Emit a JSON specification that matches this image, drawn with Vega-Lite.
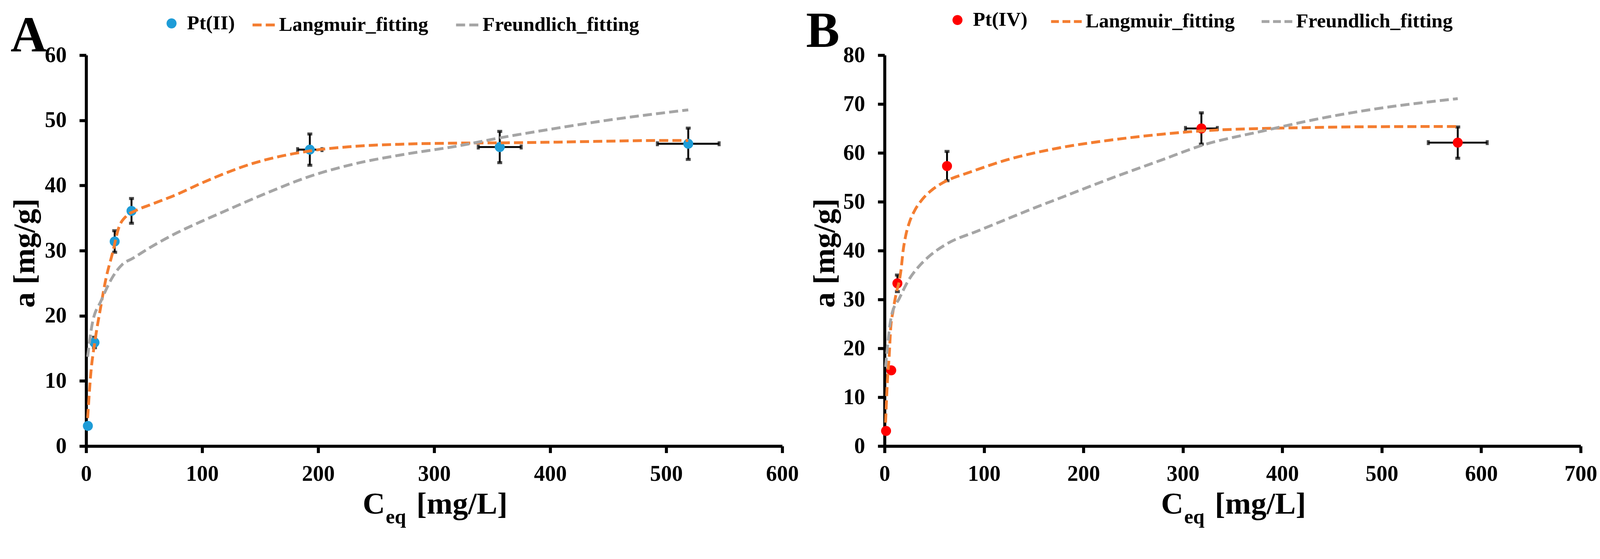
{
  "$schema": "https://vega.github.io/schema/vega-lite/v6.json",
  "background": "white",
  "padding": {"left": 23.5, "top": 11.1, "right": 5, "bottom": 5},
  "spacing": 262,
  "bounds": "flush",
  "config": {
    "view": {"stroke": null},
    "font": "Liberation Serif",
    "axis": {
      "grid": false,
      "domainColor": "black",
      "domainWidth": 7.7,
      "tickColor": "black",
      "tickWidth": 7.7,
      "tickSize": 17.4,
      "labelFont": "Liberation Serif",
      "labelFontWeight": "bold",
      "labelFontSize": 56,
      "labelColor": "black",
      "titleFont": "Liberation Serif",
      "titleFontWeight": "bold",
      "titleFontSize": 79.3,
      "titleColor": "black",
      "labelFlush": false,
      "labelOverlap": false
    },
    "axisX": {"labelPadding": 27, "titleBaseline": "alphabetic", "titleY": 172, "titleAlign": "center", "titleAngle": 0},
    "axisY": {"labelPadding": 32.9, "titleBaseline": "alphabetic", "titleAngle": -90, "titleAlign": "center", "titleY": 505.8},
    "legend": {
      "orient": "none", "direction": "horizontal", "title": null, "padding": 0,
      "labelFont": "Liberation Serif", "labelFontWeight": "bold", "labelFontSize": 51.3, "labelColor": "black", "labelLimit": 1000
    },
    "title": {"font": "Liberation Serif", "fontWeight": "bold", "fontSize": 128.6, "color": "black", "anchor": "start", "frame": "group", "baseline": "alphabetic", "offset": 0}
  },
  "datasets": {
    "ptsA": [
      {"series": "Pt(II)", "x": 1.5, "y": 3.1},
      {"series": "Pt(II)", "x": 7.2, "y": 15.9, "yerr": 0.8},
      {"series": "Pt(II)", "x": 24.6, "y": 31.4, "yerr": 1.65},
      {"series": "Pt(II)", "x": 39.1, "y": 36.1, "yerr": 1.9},
      {"series": "Pt(II)", "x": 192.8, "y": 45.5, "yerr": 2.4, "xerr": 10.5},
      {"series": "Pt(II)", "x": 356.5, "y": 45.9, "yerr": 2.4, "xerr": 18.5},
      {"series": "Pt(II)", "x": 519, "y": 46.4, "yerr": 2.4, "xerr": 26.6}
    ],
    "linesA": [
      {"series": "Langmuir_fitting", "x": 1.3, "y": 4.3},
      {"series": "Langmuir_fitting", "x": 4.0, "y": 11.1},
      {"series": "Langmuir_fitting", "x": 7.5, "y": 16.0},
      {"series": "Langmuir_fitting", "x": 12.4, "y": 21.2},
      {"series": "Langmuir_fitting", "x": 17.2, "y": 25.8},
      {"series": "Langmuir_fitting", "x": 22.7, "y": 29.6},
      {"series": "Langmuir_fitting", "x": 28.1, "y": 33.5},
      {"series": "Langmuir_fitting", "x": 34.6, "y": 35.3},
      {"series": "Langmuir_fitting", "x": 42.2, "y": 36.1},
      {"series": "Langmuir_fitting", "x": 56.3, "y": 37.1},
      {"series": "Langmuir_fitting", "x": 77.9, "y": 38.6},
      {"series": "Langmuir_fitting", "x": 100, "y": 40.4},
      {"series": "Langmuir_fitting", "x": 144, "y": 43.4},
      {"series": "Langmuir_fitting", "x": 192.8, "y": 45.3},
      {"series": "Langmuir_fitting", "x": 231, "y": 46.0},
      {"series": "Langmuir_fitting", "x": 275, "y": 46.35},
      {"series": "Langmuir_fitting", "x": 318.5, "y": 46.5},
      {"series": "Langmuir_fitting", "x": 362, "y": 46.55},
      {"series": "Langmuir_fitting", "x": 406, "y": 46.65},
      {"series": "Langmuir_fitting", "x": 450, "y": 46.8},
      {"series": "Langmuir_fitting", "x": 493, "y": 46.9},
      {"series": "Langmuir_fitting", "x": 519, "y": 46.9},
      {"series": "Freundlich_fitting", "x": 1.3, "y": 13.7},
      {"series": "Freundlich_fitting", "x": 5.3, "y": 18.8},
      {"series": "Freundlich_fitting", "x": 12.9, "y": 22.3},
      {"series": "Freundlich_fitting", "x": 23.7, "y": 26.2},
      {"series": "Freundlich_fitting", "x": 31.3, "y": 27.9},
      {"series": "Freundlich_fitting", "x": 40, "y": 28.8},
      {"series": "Freundlich_fitting", "x": 56.3, "y": 30.6},
      {"series": "Freundlich_fitting", "x": 77.9, "y": 32.7},
      {"series": "Freundlich_fitting", "x": 99.6, "y": 34.5},
      {"series": "Freundlich_fitting", "x": 121.3, "y": 36.2},
      {"series": "Freundlich_fitting", "x": 153.8, "y": 38.7},
      {"series": "Freundlich_fitting", "x": 192.8, "y": 41.4},
      {"series": "Freundlich_fitting", "x": 231, "y": 43.3},
      {"series": "Freundlich_fitting", "x": 275, "y": 44.8},
      {"series": "Freundlich_fitting", "x": 318.5, "y": 46.0},
      {"series": "Freundlich_fitting", "x": 356.5, "y": 47.3},
      {"series": "Freundlich_fitting", "x": 406, "y": 48.8},
      {"series": "Freundlich_fitting", "x": 449, "y": 50.0},
      {"series": "Freundlich_fitting", "x": 519, "y": 51.6}
    ],
    "ptsB": [
      {"series": "Pt(IV)", "x": 1.5, "y": 3.1},
      {"series": "Pt(IV)", "x": 6.7, "y": 15.5},
      {"series": "Pt(IV)", "x": 12.9, "y": 33.3, "yerr": 1.7},
      {"series": "Pt(IV)", "x": 62.8, "y": 57.3, "yerr": 3.0},
      {"series": "Pt(IV)", "x": 318.6, "y": 65.0, "yerr": 3.2, "xerr": 16},
      {"series": "Pt(IV)", "x": 576.4, "y": 62.1, "yerr": 3.2, "xerr": 29.6}
    ],
    "linesB": [
      {"series": "Langmuir_fitting", "x": 1.0, "y": 4.8},
      {"series": "Langmuir_fitting", "x": 2.9, "y": 13.5},
      {"series": "Langmuir_fitting", "x": 4.7, "y": 18.6},
      {"series": "Langmuir_fitting", "x": 6.0, "y": 23.7},
      {"series": "Langmuir_fitting", "x": 8.5, "y": 27.6},
      {"series": "Langmuir_fitting", "x": 12.0, "y": 31.5},
      {"series": "Langmuir_fitting", "x": 14.8, "y": 33.8},
      {"series": "Langmuir_fitting", "x": 16.7, "y": 36.3},
      {"series": "Langmuir_fitting", "x": 18.6, "y": 39.9},
      {"series": "Langmuir_fitting", "x": 21.2, "y": 43.0},
      {"series": "Langmuir_fitting", "x": 25.0, "y": 45.8},
      {"series": "Langmuir_fitting", "x": 30.0, "y": 48.1},
      {"series": "Langmuir_fitting", "x": 37.6, "y": 50.4},
      {"series": "Langmuir_fitting", "x": 46.4, "y": 52.2},
      {"series": "Langmuir_fitting", "x": 57.8, "y": 53.8},
      {"series": "Langmuir_fitting", "x": 68, "y": 54.8},
      {"series": "Langmuir_fitting", "x": 80.7, "y": 55.7},
      {"series": "Langmuir_fitting", "x": 123.5, "y": 58.6},
      {"series": "Langmuir_fitting", "x": 175, "y": 61.0},
      {"series": "Langmuir_fitting", "x": 226.5, "y": 62.6},
      {"series": "Langmuir_fitting", "x": 278, "y": 63.8},
      {"series": "Langmuir_fitting", "x": 318.6, "y": 64.5},
      {"series": "Langmuir_fitting", "x": 380.8, "y": 65.0},
      {"series": "Langmuir_fitting", "x": 432, "y": 65.2},
      {"series": "Langmuir_fitting", "x": 484, "y": 65.35},
      {"series": "Langmuir_fitting", "x": 576.4, "y": 65.4},
      {"series": "Freundlich_fitting", "x": 1.0, "y": 16.2},
      {"series": "Freundlich_fitting", "x": 2.2, "y": 18.9},
      {"series": "Freundlich_fitting", "x": 7.2, "y": 26.9},
      {"series": "Freundlich_fitting", "x": 14.8, "y": 30.2},
      {"series": "Freundlich_fitting", "x": 23.7, "y": 33.8},
      {"series": "Freundlich_fitting", "x": 33.8, "y": 36.6},
      {"series": "Freundlich_fitting", "x": 45.2, "y": 38.9},
      {"series": "Freundlich_fitting", "x": 62.8, "y": 41.4},
      {"series": "Freundlich_fitting", "x": 93.4, "y": 44.0},
      {"series": "Freundlich_fitting", "x": 118.8, "y": 46.1},
      {"series": "Freundlich_fitting", "x": 144, "y": 48.2},
      {"series": "Freundlich_fitting", "x": 182, "y": 51.2},
      {"series": "Freundlich_fitting", "x": 226.5, "y": 54.7},
      {"series": "Freundlich_fitting", "x": 278, "y": 58.5},
      {"series": "Freundlich_fitting", "x": 318.6, "y": 61.5},
      {"series": "Freundlich_fitting", "x": 380.8, "y": 64.5},
      {"series": "Freundlich_fitting", "x": 432, "y": 66.8},
      {"series": "Freundlich_fitting", "x": 484, "y": 68.7},
      {"series": "Freundlich_fitting", "x": 576.4, "y": 71.1}
    ]
  },
  "resolve": {"scale": {"fill": "independent", "stroke": "independent", "x": "independent", "y": "independent"}, "legend": {"fill": "independent", "stroke": "independent"}},
  "hconcat": [
    {
      "width": 1782,
      "height": 1000,
      "title": {"text": "A", "dx": -193.4, "dy": 130},
      "resolve": {"axis": {"x": "independent"}},
      "encoding": {
        "y": {"field": "y", "type": "quantitative", "scale": {"domain": [0, 60], "nice": false, "zero": false}, "axis": {"values": [0, 10, 20, 30, 40, 50, 60], "title": "a [mg/g]", "titleX": -133.5}}
      },
      "layer": [
        {
          "data": {"name": "ptsA"},
          "transform": [{"filter": "datum.yerr > 0"}],
          "mark": {"type": "errorbar", "color": "black", "ticks": {"size": 12.6, "thickness": 7.7, "color": "black"}, "rule": {"strokeWidth": 4.8, "color": "black"}},
          "encoding": {
            "x": {"field": "x", "type": "quantitative", "scale": {"domain": [0, 600], "nice": false, "zero": false}, "axis": {"orient": "bottom", "values": [0, 100, 200, 300, 400, 500, 600], "title": "[mg/L]", "titleX": 961.8}},
            "yError": {"field": "yerr"}
          }
        },
        {
          "data": {"name": "ptsA"},
          "transform": [{"filter": "datum.xerr > 0"}],
          "mark": {"type": "errorbar", "color": "black", "ticks": {"size": 12.6, "thickness": 7.7, "color": "black"}, "rule": {"strokeWidth": 4.8, "color": "black"}},
          "encoding": {
            "x": {"field": "x", "type": "quantitative", "scale": {"domain": [0, 600], "nice": false, "zero": false}, "axis": {"orient": "bottom", "title": "eq", "domain": false, "ticks": false, "labels": false, "titleX": 792.5, "titleY": 197, "titleFontSize": 52.2}},
            "xError": {"field": "xerr"}
          }
        },
        {
          "data": {"name": "ptsA"},
          "mark": {"type": "point", "filled": true, "size": 655, "opacity": 1, "strokeWidth": 0},
          "encoding": {
            "x": {"field": "x", "type": "quantitative", "scale": {"domain": [0, 600], "nice": false, "zero": false}, "axis": {"orient": "bottom", "title": "C", "domain": false, "ticks": false, "labels": false, "titleX": 736}},
            "fill": {"field": "series", "type": "nominal",
              "scale": {"domain": ["Pt(II)"], "range": ["#1e9cd7"]},
              "legend": {"legendX": 193, "legendY": -106.9, "symbolType": "circle", "symbolSize": 655, "symbolStrokeWidth": 0, "labelOffset": 14}
            }
          }
        },
        {
          "data": {"name": "linesA"},
          "mark": {"type": "line", "strokeWidth": 7.25, "strokeDash": [23.2, 10.6], "interpolate": "monotone"},
          "encoding": {
            "x": {"field": "x", "type": "quantitative", "scale": {"domain": [0, 600], "nice": false, "zero": false}, "axis": null},
            "stroke": {"field": "series", "type": "nominal",
              "scale": {"domain": ["Langmuir_fitting", "Freundlich_fitting"], "range": ["#f47d30", "#a5a5a5"]},
              "legend": {"legendX": 422, "legendY": -109.7, "symbolType": "stroke", "symbolSize": 3249, "symbolStrokeWidth": 7.25, "symbolDash": [23.2, 10.6], "labelOffset": 6.8, "columnPadding": 56}
            }
          }
        }
      ]
    },
    {
      "width": 1782,
      "height": 1000,
      "title": {"text": "B", "dx": -201, "dy": 139},
      "resolve": {"axis": {"x": "independent"}},
      "encoding": {
        "y": {"field": "y", "type": "quantitative", "scale": {"domain": [0, 80], "nice": false, "zero": false}, "axis": {"values": [0, 10, 20, 30, 40, 50, 60, 70, 80], "title": "a [mg/g]", "titleX": -128.6}}
      },
      "layer": [
        {
          "data": {"name": "ptsB"},
          "transform": [{"filter": "datum.yerr > 0"}],
          "mark": {"type": "errorbar", "color": "black", "ticks": {"size": 12.6, "thickness": 7.7, "color": "black"}, "rule": {"strokeWidth": 4.8, "color": "black"}},
          "encoding": {
            "x": {"field": "x", "type": "quantitative", "scale": {"domain": [0, 700], "nice": false, "zero": false}, "axis": {"orient": "bottom", "values": [0, 100, 200, 300, 400, 500, 600, 700], "title": "[mg/L]", "titleX": 961.8}},
            "yError": {"field": "yerr"}
          }
        },
        {
          "data": {"name": "ptsB"},
          "transform": [{"filter": "datum.xerr > 0"}],
          "mark": {"type": "errorbar", "color": "black", "ticks": {"size": 12.6, "thickness": 7.7, "color": "black"}, "rule": {"strokeWidth": 4.8, "color": "black"}},
          "encoding": {
            "x": {"field": "x", "type": "quantitative", "scale": {"domain": [0, 700], "nice": false, "zero": false}, "axis": {"orient": "bottom", "title": "eq", "domain": false, "ticks": false, "labels": false, "titleX": 792.5, "titleY": 197, "titleFontSize": 52.2}},
            "xError": {"field": "xerr"}
          }
        },
        {
          "data": {"name": "ptsB"},
          "mark": {"type": "point", "filled": true, "size": 655, "opacity": 1, "strokeWidth": 0},
          "encoding": {
            "x": {"field": "x", "type": "quantitative", "scale": {"domain": [0, 700], "nice": false, "zero": false}, "axis": {"orient": "bottom", "title": "C", "domain": false, "ticks": false, "labels": false, "titleX": 736}},
            "fill": {"field": "series", "type": "nominal",
              "scale": {"domain": ["Pt(IV)"], "range": ["#ff0000"]},
              "legend": {"legendX": 161, "legendY": -115.5, "symbolType": "circle", "symbolSize": 655, "symbolStrokeWidth": 0, "labelOffset": 14}
            }
          }
        },
        {
          "data": {"name": "linesB"},
          "mark": {"type": "line", "strokeWidth": 7.25, "strokeDash": [23.2, 10.6], "interpolate": "monotone"},
          "encoding": {
            "x": {"field": "x", "type": "quantitative", "scale": {"domain": [0, 700], "nice": false, "zero": false}, "axis": null},
            "stroke": {"field": "series", "type": "nominal",
              "scale": {"domain": ["Langmuir_fitting", "Freundlich_fitting"], "range": ["#f47d30", "#a5a5a5"]},
              "legend": {"legendX": 422.5, "legendY": -129.2, "symbolType": "stroke", "symbolSize": 6162, "symbolStrokeWidth": 7.25, "symbolDash": [20, 9.25], "labelOffset": 6, "columnPadding": 54}
            }
          }
        }
      ]
    }
  ]
}
